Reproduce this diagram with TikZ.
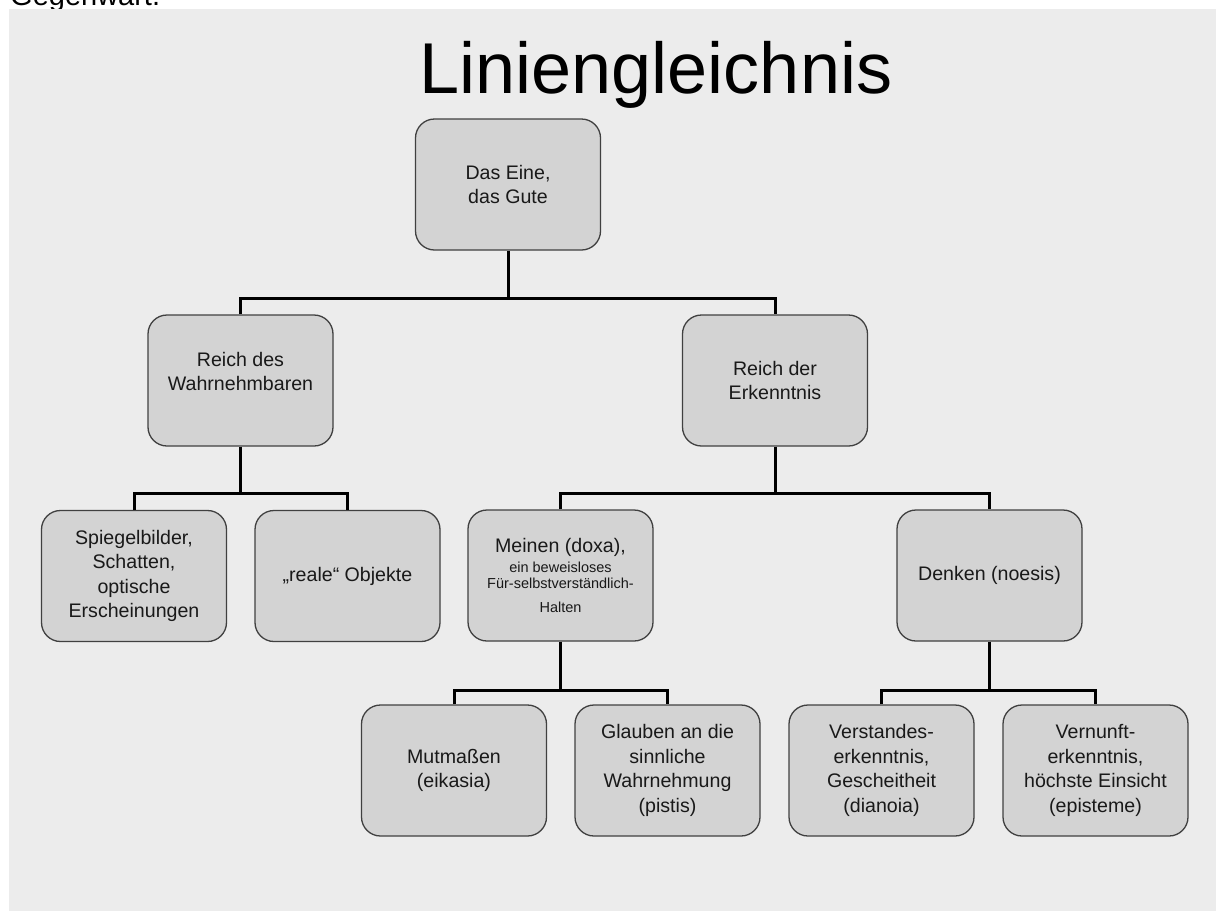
\documentclass[tikz,border=0pt]{standalone}
\usepackage{fontspec}
\setmainfont{Liberation Sans}
\definecolor{panel}{RGB}{236,236,236}
\definecolor{boxfill}{RGB}{211,211,211}
\definecolor{boxline}{RGB}{64,64,64}
\definecolor{txt}{RGB}{25,25,25}
\begin{document}
\begin{tikzpicture}[x=1pt,y=-1pt,
  box/.style={draw=boxline, fill=boxfill, line width=1.3pt, rounded corners=19pt,
    minimum width=185pt, minimum height=131pt, inner sep=0pt, align=center,
    text=txt, font=\fontsize{19.6}{24.5}\selectfont},
  conn/.style={line width=3pt, black}]
\useasboundingbox (0,0) rectangle (1216,911);
\node[anchor=base west, inner sep=0pt, font=\fontsize{29}{34}\selectfont] (gw) at (10,5) {Gegenwart.};
\fill[panel] (9,9) rectangle (1216,911);
\node[anchor=base, inner sep=0pt, font=\fontsize{72}{80}\selectfont] (title) at (656,93) {Liniengleichnis};
% level 0
\node[box] (one) at (508,184.5) {Das Eine,\\das Gute};
% level 1
\node[box] (wahr) at (240.5,380.5) {Reich des\\Wahrnehmbaren\\[-6pt]\mbox{}};
\node[box] (erk) at (775,380.5) {Reich der\\Erkenntnis};
% level 2
\node[box] (spieg) at (134,576) {Spiegelbilder,\\Schatten,\\optische\\Erscheinungen};
\node[box] (real) at (347.5,576) {„reale“ Objekte};
\node[box, font=\fontsize{14.5}{16}\selectfont] (mein) at (560.5,575.5)
  {{\fontsize{19.6}{20}\selectfont Meinen (doxa),}\\[4pt]ein beweisloses\\Für-selbstverständlich-\\[8pt]Halten};
\node[box] (denk) at (989.5,575.5) {Denken (noesis)};
% level 3
\node[box] (mut) at (454,770.5) {Mutmaßen\\(eikasia)};
\node[box] (glau) at (667.5,770.5) {Glauben an die\\sinnliche\\Wahrnehmung\\(pistis)};
\node[box] (vers) at (881.5,770.5) {Verstandes-\\erkenntnis,\\Gescheitheit\\(dianoia)};
\node[box] (vern) at (1095.5,770.5) {Vernunft-\\erkenntnis,\\höchste Einsicht\\(episteme)};
% connectors
\coordinate (b0) at (508,298);
\coordinate (b1) at (240.5,493);
\coordinate (b2) at (775,493);
\coordinate (b3) at (560.5,690);
\coordinate (b4) at (989.5,690);
\draw[conn] (one.south) -- (b0);
\draw[conn] (wahr.north) |- (b0) -| (erk.north);
\draw[conn] (wahr.south) -- (b1);
\draw[conn] (spieg.north) |- (b1) -| (real.north);
\draw[conn] (erk.south) -- (b2);
\draw[conn] (mein.north) |- (b2) -| (denk.north);
\draw[conn] (mein.south) -- (b3);
\draw[conn] (mut.north) |- (b3) -| (glau.north);
\draw[conn] (denk.south) -- (b4);
\draw[conn] (vers.north) |- (b4) -| (vern.north);
\end{tikzpicture}
\end{document}
